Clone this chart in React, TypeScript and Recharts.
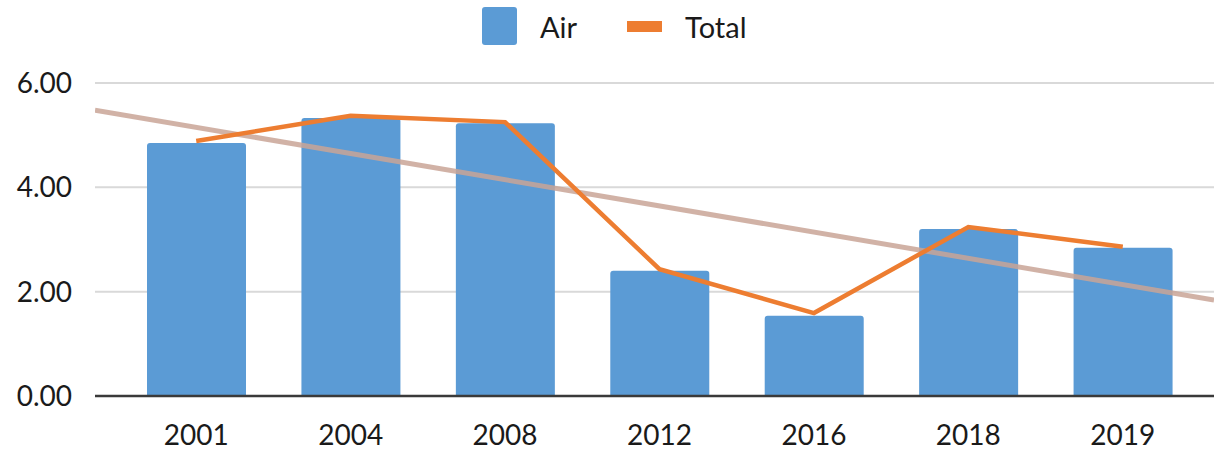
import React from 'react';
import { ComposedChart, Bar, Line, XAxis, YAxis, CartesianGrid, Legend } from 'recharts';

const years = ['2001', '2004', '2008', '2012', '2016', '2018', '2019'];
const airValues = [4.85, 5.33, 5.23, 2.4, 1.54, 3.2, 2.84];
const totalValues = [4.89, 5.37, 5.25, 2.43, 1.59, 3.24, 2.86];
const yTicks = [0, 2, 4, 6];
const trendPositions = [0, 1];
const trendValues = [5.48, 1.84];

const data = years.map((year, i) => ({ year, Air: airValues[i], Total: totalValues[i] }));
const trendData = trendPositions.map((pos, i) => ({ pos, trend: trendValues[i] }));

const FONT = 'Lato, "Open Sans", sans-serif';

const renderLegend = (props: any) => {
  const payload = (props.payload || []).filter((p: any) => p.type !== 'none');
  return (
    <div style={{ display: 'flex', alignItems: 'center', marginLeft: 482, fontFamily: FONT, fontSize: 29, color: '#1a1a1a', height: 52 }}>
      {payload.map((p: any) => (
        <div key={p.value} style={{ display: 'flex', alignItems: 'center', marginRight: 50 }}>
          {p.type === 'rect' ? (
            <div style={{ width: 35, height: 38, background: p.color, borderRadius: 3, marginRight: 23 }} />
          ) : (
            <div style={{ width: 35, height: 11, background: p.color, marginRight: 23 }} />
          )}
          <span>{p.value}</span>
        </div>
      ))}
    </div>
  );
};

export default function App() {
  return (
    <div style={{ position: 'absolute', left: 0, top: 0, background: '#fff' }}>
      <ComposedChart width={1214} height={451} data={data} margin={{ top: 31, right: 0, bottom: 0, left: 0 }}>
        <CartesianGrid vertical={false} stroke="#D9D9D9" strokeWidth={2} />
        <XAxis
          dataKey="year"
          xAxisId="cat"
          padding={{ left: 24, right: 14 }}
          height={55}
          tickLine={false}
          tickSize={0}
          tickMargin={29}
          axisLine={{ stroke: '#3a3a3a', strokeWidth: 2.5 }}
          tick={{ fill: '#1a1a1a', fontSize: 28, fontFamily: FONT }}
        />
        <XAxis xAxisId="trend" type="number" dataKey="pos" domain={[0, 1]} hide allowDataOverflow />
        <YAxis
          domain={[0, 6]}
          ticks={yTicks}
          width={95}
          axisLine={false}
          tickLine={false}
          tickSize={0}
          tickMargin={23}
          tickFormatter={(v: number) => v.toFixed(2)}
          tick={{ fill: '#1a1a1a', fontSize: 28, fontFamily: FONT }}
        />
        <Legend verticalAlign="top" align="left" height={52} content={renderLegend} wrapperStyle={{ top: 0, left: 0, width: 1214 }} />
        <Bar dataKey="Air" xAxisId="cat" fill="#5B9BD5" barSize={99} radius={[3, 3, 0, 0]} isAnimationActive={false} legendType="rect" />
        <Line
          data={trendData}
          xAxisId="trend"
          dataKey="trend"
          stroke="#C9A596"
          strokeOpacity={0.85}
          strokeWidth={5}
          dot={false}
          activeDot={false}
          legendType="none"
          isAnimationActive={false}
        />
        <Line
          dataKey="Total"
          xAxisId="cat"
          type="linear"
          stroke="#ED7D31"
          strokeWidth={4.5}
          dot={false}
          activeDot={false}
          legendType="line"
          isAnimationActive={false}
        />
      </ComposedChart>
    </div>
  );
}
